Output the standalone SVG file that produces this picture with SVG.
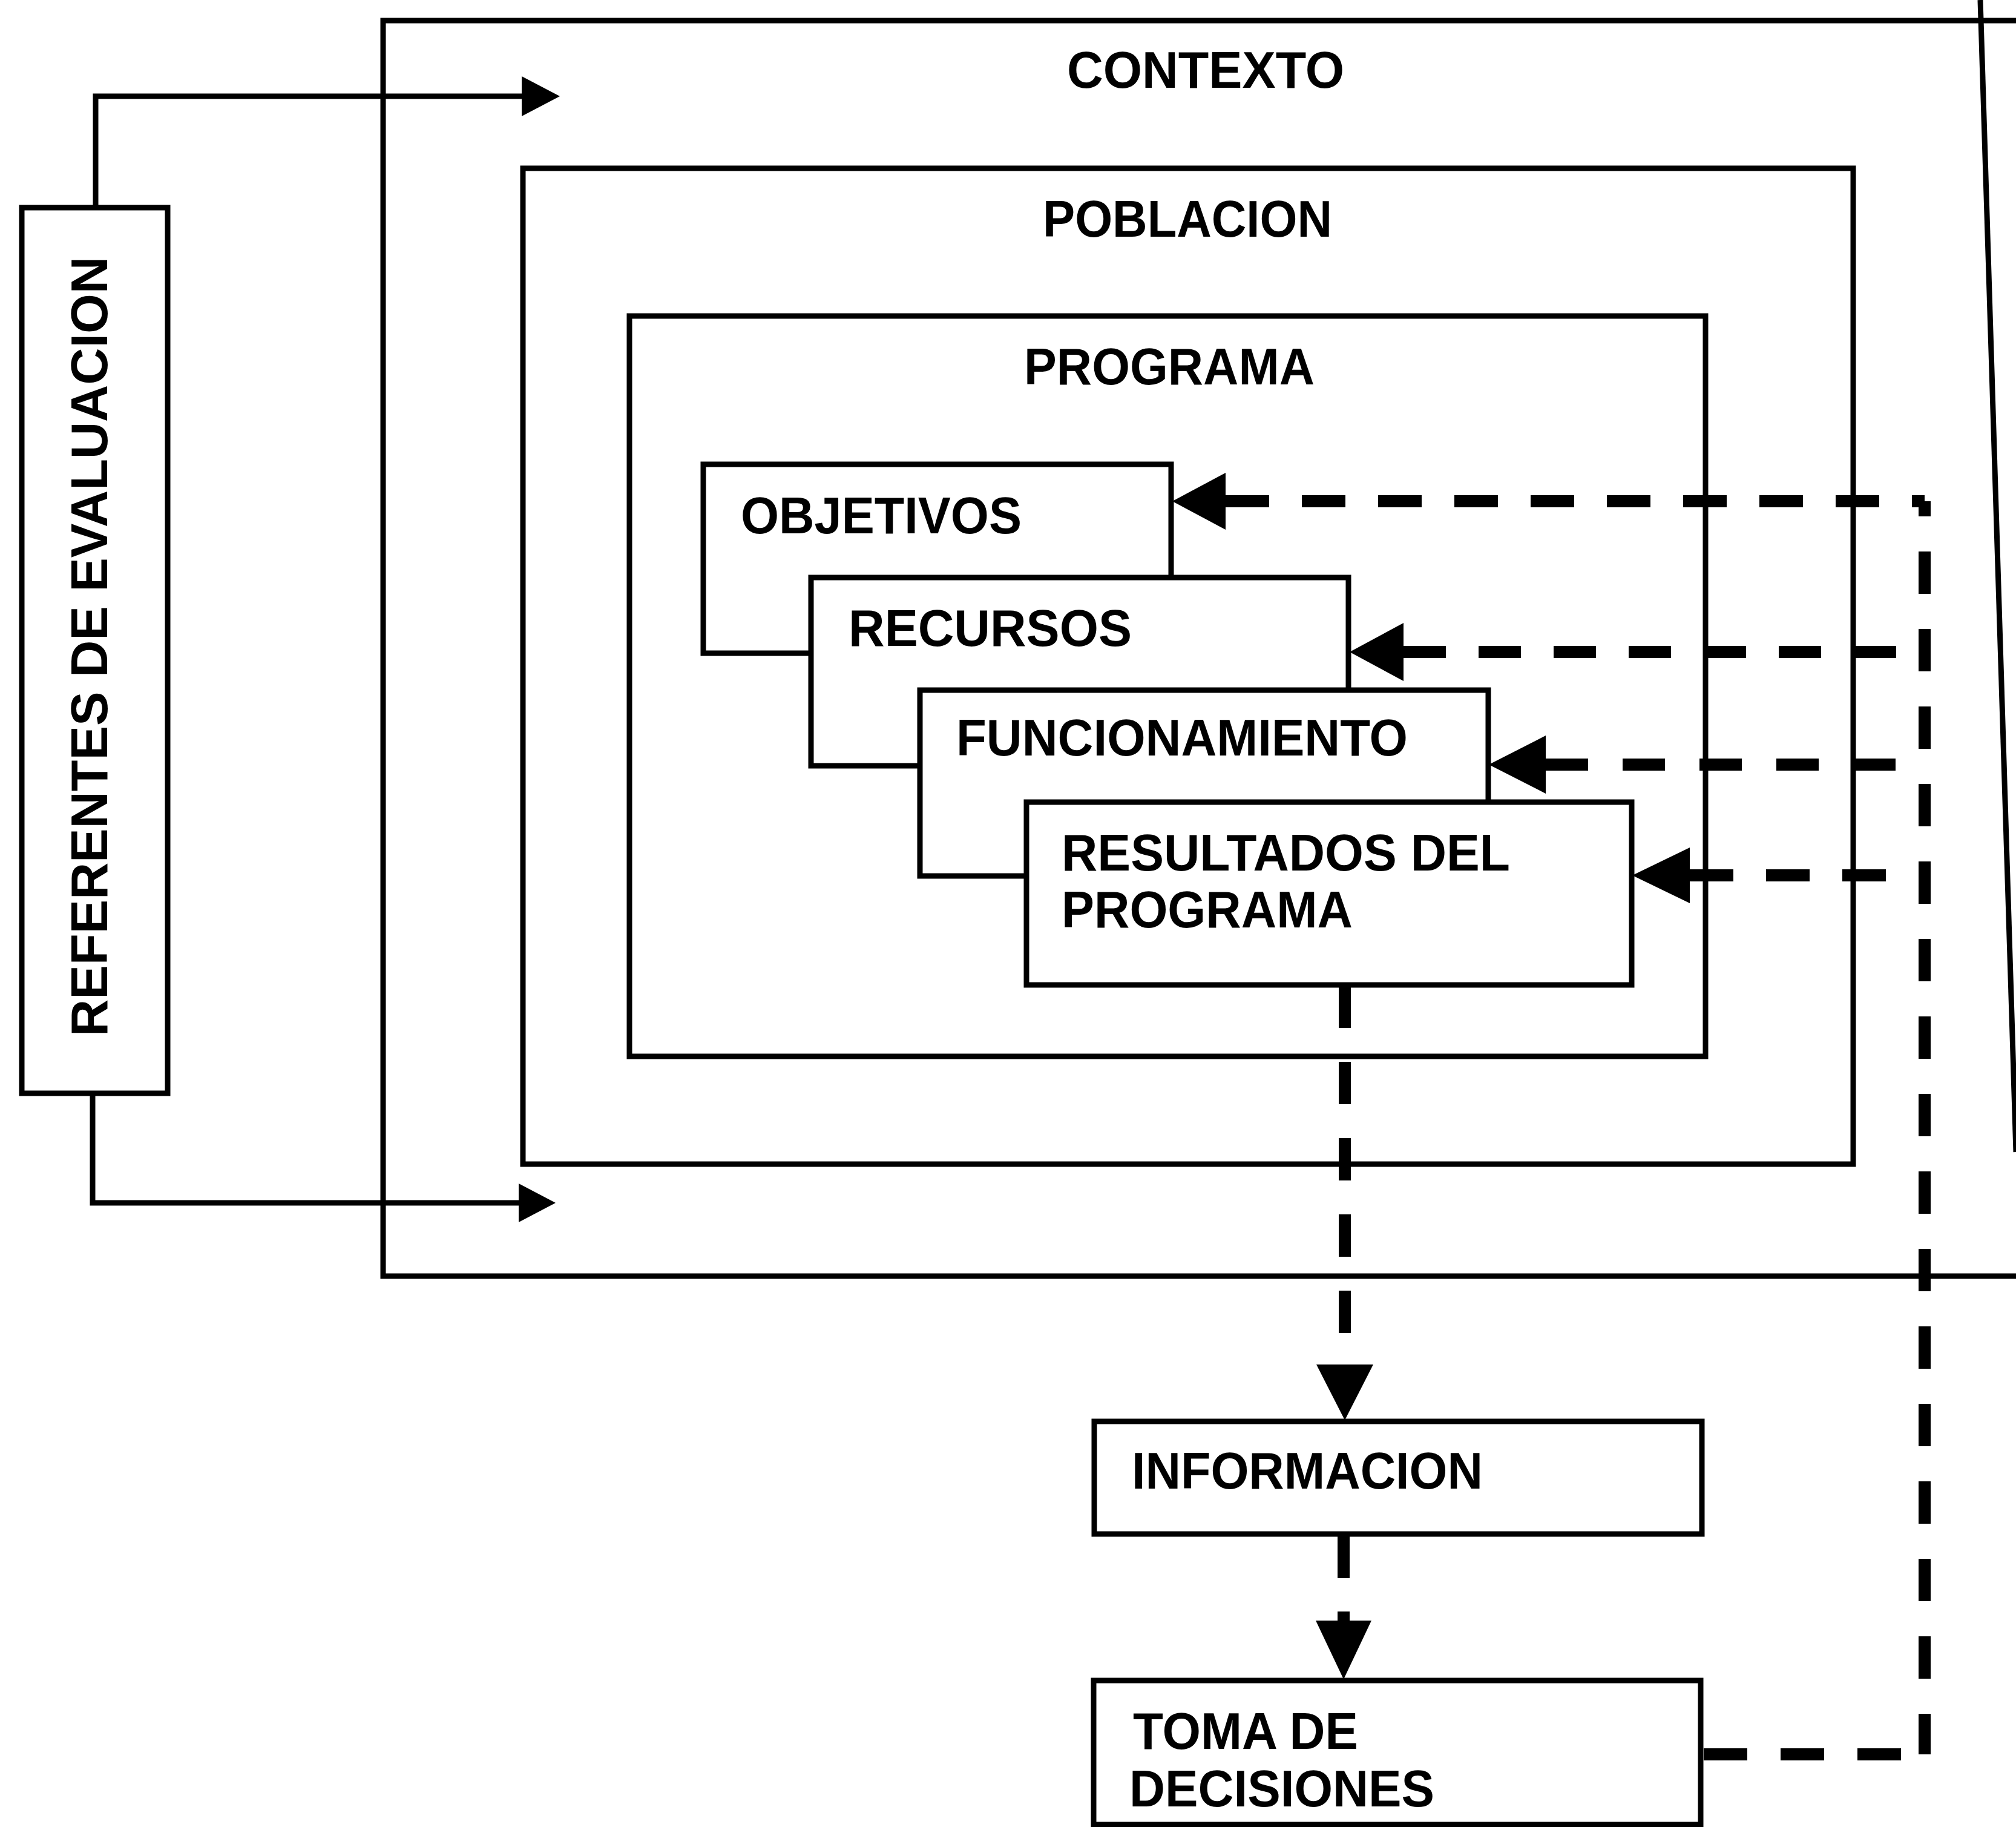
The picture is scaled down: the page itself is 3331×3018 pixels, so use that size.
<svg xmlns="http://www.w3.org/2000/svg" width="3331" height="3018" viewBox="0 0 3331 3018">
<style>
.box{fill:#fff;stroke:#000;stroke-width:9}
.ln{fill:none;stroke:#000;stroke-width:9}
.dash{fill:none;stroke:#000;stroke-width:20}
.ah{fill:#000;stroke:none}
.t{font-family:"Liberation Sans",Arial,sans-serif;font-size:86px;font-weight:bold;fill:#000}
</style>
<rect width="3331" height="3018" fill="#fff"/>
<g id="contexto">
<path class="ln" d="M3331 34 H633 V2108 H3331"/>
<path class="ln" d="M3272 0 L3331 1903"/>
<text class="t" x="1763" y="145" textLength="458" lengthAdjust="spacingAndGlyphs">CONTEXTO</text>
</g>
<g id="poblacion">
<rect class="box" x="864" y="278" width="2198" height="1645"/>
<text class="t" x="1723" y="391" textLength="478" lengthAdjust="spacingAndGlyphs">POBLACION</text>
</g>
<g id="programa">
<rect class="box" x="1040" y="522" width="1778" height="1223"/>
<text class="t" x="1692" y="635" textLength="480" lengthAdjust="spacingAndGlyphs">PROGRAMA</text>
</g>
<g id="objetivos">
<rect class="box" x="1162" y="767" width="773" height="312"/>
<text class="t" x="1224" y="881" textLength="464" lengthAdjust="spacingAndGlyphs">OBJETIVOS</text>
</g>
<g id="recursos">
<rect class="box" x="1340" y="954" width="888" height="311"/>
<text class="t" x="1402" y="1067" textLength="468" lengthAdjust="spacingAndGlyphs">RECURSOS</text>
</g>
<g id="funcionamiento">
<rect class="box" x="1520" y="1140" width="939" height="307"/>
<text class="t" x="1580" y="1248" textLength="746" lengthAdjust="spacingAndGlyphs">FUNCIONAMIENTO</text>
</g>
<g id="resultados">
<rect class="box" x="1696" y="1325" width="1000" height="302"/>
<text class="t" x="1754" y="1438" textLength="741" lengthAdjust="spacingAndGlyphs">RESULTADOS DEL</text>
<text class="t" x="1754" y="1532" textLength="481" lengthAdjust="spacingAndGlyphs">PROGRAMA</text>
</g>
<g id="referentes">
<rect class="box" x="36" y="343" width="241" height="1463"/>
<text class="t" transform="translate(177,1712) rotate(-90)" x="0" y="0" textLength="1288" lengthAdjust="spacingAndGlyphs">REFERENTES DE EVALUACION</text>
</g>
<g id="informacion">
<rect class="box" x="1808" y="2348" width="1004" height="186"/>
<text class="t" x="1870" y="2459" textLength="580" lengthAdjust="spacingAndGlyphs">INFORMACION</text>
</g>
<g id="toma">
<rect class="box" x="1807" y="2776" width="1003" height="238"/>
<text class="t" x="1872" y="2889" textLength="372" lengthAdjust="spacingAndGlyphs">TOMA DE</text>
<text class="t" x="1866" y="2984" textLength="504" lengthAdjust="spacingAndGlyphs">DECISIONES</text>
</g>
<g id="connectors">
<path class="ln" d="M158 343 V159 H866"/>
<polygon class="ah" points="862,126 925,159 862,192"/>
<path class="ln" d="M153 1806 V1987 H860"/>
<polygon class="ah" points="857,1955 918,1987 857,2019"/>
<path class="dash" d="M2025 828 H3180" stroke-dasharray="72 54"/>
<path class="dash" d="M3180 828 V2898" stroke-dasharray="70 58" stroke-dashoffset="45"/>
<path class="dash" d="M2815 2898 H3145" stroke-dasharray="72 55"/>
<polygon class="ah" points="2025,781 1937,828 2025,875"/>
<path class="dash" d="M2319 1077 H3138" stroke-dasharray="70 54"/>
<polygon class="ah" points="2319,1029 2230,1077 2319,1125"/>
<path class="dash" d="M2554 1263 H3132" stroke-dasharray="70 57"/>
<polygon class="ah" points="2554,1215 2460,1263 2554,1311"/>
<path class="dash" d="M2792 1446 H3118" stroke-dasharray="72 54"/>
<polygon class="ah" points="2792,1400 2697,1446 2792,1492"/>
<path class="dash" d="M2222 1628 V2254" stroke-dasharray="70 56"/>
<polygon class="ah" points="2175,2254 2269,2254 2222,2346"/>
<path class="dash" d="M2220 2536 V2677" stroke-dasharray="71 55"/>
<polygon class="ah" points="2174,2677 2266,2677 2220,2774"/>
</g>
</svg>
